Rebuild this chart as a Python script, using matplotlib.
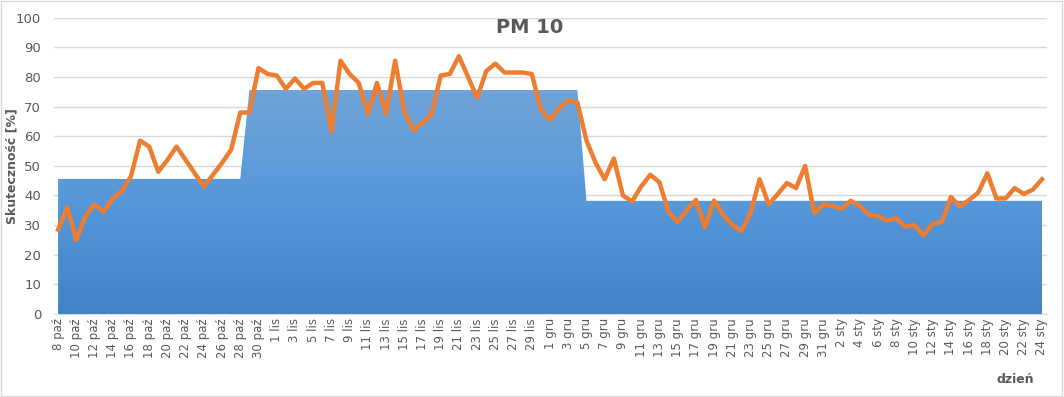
import numpy as np
import matplotlib
matplotlib.use('Agg')
import matplotlib.pyplot as plt
from matplotlib.colors import LinearSegmentedColormap
from matplotlib.patches import Rectangle

# --- data ---
months = [('paź', 8, 31), ('lis', 1, 30), ('gru', 1, 31), ('sty', 1, 24)]
days = [f'{d} {m}' for m, a, b in months for d in range(a, b + 1)]

pm10 = [28.5, 36, 25, 33, 37, 34.5, 39, 41.5, 46.5, 58.5,
        56.5, 48, 52, 56.5, 52, 47.5, 43, 47, 51, 55.5,
        68, 68, 83, 81, 80.5, 76, 79.5, 76, 78, 78,
        61.5, 85.5, 81, 78, 67.5, 78, 67.5, 85.5, 68.3, 62,
        64.5, 67.5, 80.5, 81, 87, 80, 73, 82, 84.5, 81.5,
        81.5, 81.5, 81, 69, 65.5, 69.5, 72, 71.5, 58.5, 51,
        45.5, 52.5, 40, 38, 43, 47, 44.5, 34.5, 31, 35,
        38.5, 29.3, 38.3, 33.5, 30, 28, 34, 45.5, 37, 40.5,
        44.2, 42.5, 50, 34, 37, 36.5, 35.5, 38.2, 36.5, 33.5,
        33, 31.5, 32.3, 29.5, 30, 26.5, 30.5, 31, 39.5, 36.3,
        38.5, 41, 47.5, 39, 39, 42.5, 40.5, 42, 45.5]

# target level (step area): 8-28 paź, 29 paź - 4 gru, 5 gru - 24 sty
level_vals = [45.6, 75.6, 38.2]
level_len = [21, 37, 51]
level = np.repeat(level_vals, level_len)

x = np.arange(len(days))

fig = plt.figure(figsize=(10.64, 3.97), dpi=100)
ax = fig.add_axes([0.0503, 0.209, 0.9333, 0.7464])

# gradient-filled area
poly = ax.fill_between(x, 0, level, color='none', lw=0, zorder=2)
cmap = LinearSegmentedColormap.from_list('blu', ['#4283c5', '#5698da', '#6fa3d8'])
grad = np.linspace(0, 1, 256).reshape(-1, 1)
im = ax.imshow(grad, cmap=cmap, origin='lower', aspect='auto',
               extent=[x[0], x[-1], 0, max(level_vals)], zorder=2)
path = poly.get_paths()[0]
im.set_clip_path(path, transform=ax.transData)

ax.plot(x, pm10, color='#ed7d31', lw=3.2, solid_joinstyle='round', zorder=4)

ax.set_xlim(-0.5, len(days) - 0.5)
ax.set_ylim(0, 100)
ax.set_yticks(range(0, 101, 10))
ax.grid(axis='y', color='#d9d9d9', lw=1, zorder=0)
ax.set_axisbelow(True)
ax.set_xticks(x[::2])
ax.set_xticklabels(days[::2], rotation=90, fontsize=8.5, color='#595959')
ax.tick_params(axis='y', labelsize=9.5, colors='#595959', length=0, pad=9)
ax.tick_params(axis='x', length=0, pad=3)
for s in ['top', 'right', 'left']:
    ax.spines[s].set_visible(False)
ax.spines['bottom'].set_color('#d9d9d9')

ax.set_ylabel('Skuteczność [%]', fontsize=9, fontweight='bold', color='#595959')
ax.yaxis.set_label_coords(-0.035, 0.5)
fig.text(0.498, 0.93, 'PM 10', ha='center', va='center', fontsize=14,
         fontweight='bold', color='#595959')
fig.text(0.954, 0.045, 'dzień', ha='center', va='center', fontsize=9,
         fontweight='bold', color='#595959')

fig.patches.append(Rectangle((0.001, 0.002), 0.997, 0.995, transform=fig.transFigure,
                             fill=False, edgecolor='#d9d9d9', lw=1))

fig.savefig('out.png', dpi=100)
